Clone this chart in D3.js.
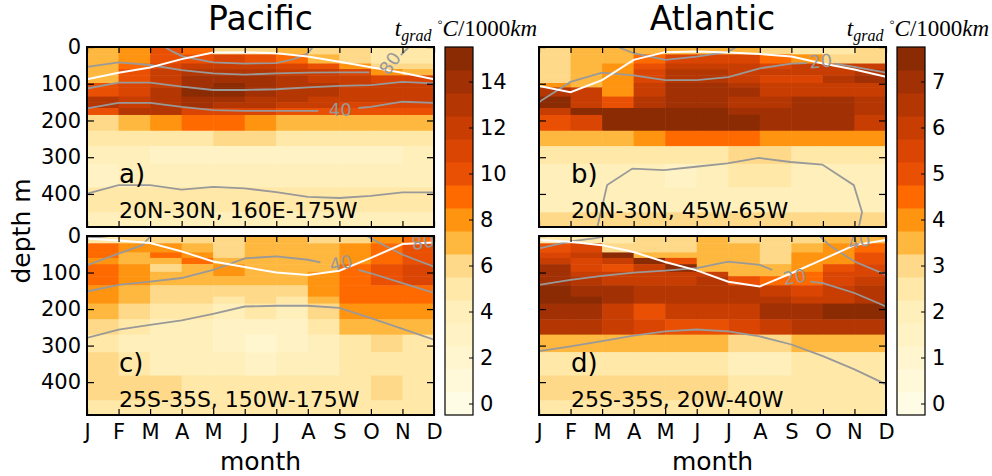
<!DOCTYPE html>
<html>
<head>
<meta charset="utf-8">
<script src="https://cdn.jsdelivr.net/npm/d3@7"></script>
<style>
body { margin: 0; background: #fff; }
svg { font-family: "DejaVu Sans", sans-serif; }
</style>
</head>
<body>
<script>
(function () {
	"use strict";

	// ---- data ----
	let months = ['J', 'F', 'M', 'A', 'M', 'J', 'J', 'A', 'S', 'O', 'N', 'D'];
	let depthEdges = [0, 20, 45, 60, 77, 98, 110, 135, 150, 166, 185, 228, 270, 318, 382, 450, 490];
	let depthTicks = [0, 100, 200, 300, 400];
	let basins = ['Pacific', 'Atlantic'];
	let regions = ['20N-30N, 160E-175W', '20N-30N, 45W-65W', '25S-35S, 150W-175W', '25S-35S, 20W-40W'];
	let cbTicksPac = [0, 2, 4, 6, 8, 10, 12, 14];
	let cbTicksAtl = [0, 1, 2, 3, 4, 5, 6, 7];

	// temperature gradient, rows = depth cells, cols = J-F ... N-D
	let tgradPacN = [
		[7, 8, 10, 9, 6, 6, 7, 6, 6, 5, 5],
		[7, 8, 10, 10, 11, 10, 9, 7, 6, 5, 5],
		[7, 9, 11, 12, 12, 12, 11, 10, 8, 6, 6],
		[7, 10, 12, 13, 13, 13, 12, 12, 11, 8, 7],
		[7, 10, 12, 14, 14, 14, 13, 12, 12, 11, 11],
		[10, 11, 12, 14, 15, 14, 13, 13, 12, 12, 12],
		[10, 11, 13, 15, 15, 14, 13, 13, 12, 12, 12],
		[13, 12, 13, 14, 14, 13, 13, 12, 12, 12, 12],
		[13, 12, 13, 14, 13, 13, 12, 12, 11, 11, 11],
		[10, 13, 13, 11, 11, 11, 10, 10, 10, 10, 10],
		[6, 7, 8, 9, 9, 8, 7, 7, 7, 7, 7],
		[5, 5, 5, 5, 6, 6, 5, 5, 5, 5, 5],
		[4, 4, 3, 3, 3, 3, 3, 3, 3, 3, 4],
		[3, 4, 4, 4, 4, 4, 4, 4, 4, 4, 4],
		[5, 5, 5, 5, 5, 5, 5, 5, 5, 5, 5],
		[4, 4, 4, 4, 4, 4, 4, 4, 4, 4, 4]
	];
	let tgradAtlN = [
		[3, 3.5, 3.5, 3.5, 3.5, 3.5, 3.5, 3, 2.5, 2.5, 3],
		[3, 3.5, 3.5, 4.5, 5.5, 5.5, 5.5, 4.5, 4, 3, 3],
		[3, 3.5, 4, 5, 6, 6, 6, 5.5, 6, 6, 6],
		[3, 3.5, 4, 5.5, 6.5, 6.5, 6, 6, 6, 6, 6.5],
		[3, 3.5, 4, 5.5, 6.5, 6.5, 6, 5.5, 5.5, 6.5, 7],
		[4, 3.5, 4, 6, 7, 7, 6.5, 6, 6, 6, 6],
		[6.5, 6, 4, 6, 7, 7, 7, 6, 6, 6, 6],
		[7.5, 6, 5, 6.5, 7, 7, 6.5, 6.5, 7, 7, 6.5],
		[7.5, 6, 5, 6.5, 7, 7, 6.5, 6.5, 7, 7, 6.5],
		[6, 7.5, 7.5, 7.5, 7.5, 7.5, 7, 7, 7, 7, 6.5],
		[5, 5.5, 7.5, 7.5, 7.5, 7.5, 7.5, 7, 7, 7, 6],
		[3.5, 3.5, 3.5, 4, 4.5, 4.5, 4.5, 4, 4, 4, 4],
		[2.5, 2.5, 2.5, 2.5, 2.5, 2.5, 3, 3, 2.5, 2.5, 2.5],
		[2, 2, 2, 2, 1.5, 2, 2.5, 2.5, 2, 2, 2],
		[2, 2, 2, 2, 2, 2, 2, 2, 2, 2, 2],
		[3, 3, 3, 3, 3, 3, 3, 3, 3, 3, 3]
	];
	let tgradPacS = [
		[5, 6, 6, 6, 6, 7, 7, 6, 6, 8, 9],
		[9, 8, 8, 7, 6, 7, 7, 7, 8, 9, 10],
		[9, 7, 9, 8, 6, 7, 7, 7, 8, 9, 10],
		[8, 7, 7, 9, 7, 7, 7, 7, 8, 9, 10],
		[9, 8, 6, 7, 8, 7, 7, 7, 9, 10, 11],
		[9, 8, 7, 7, 8, 7, 7, 8, 9, 10, 11],
		[9, 8, 7, 7, 7, 7, 7, 8, 9, 10, 11],
		[8, 7, 6, 6, 6, 6, 6, 8, 9, 9, 9],
		[8, 7, 6, 6, 6, 6, 6, 8, 9, 9, 9],
		[8, 7, 6, 6, 5, 6, 5, 7, 9, 9, 9],
		[7, 6, 5, 5, 4, 5, 4, 6, 8, 8, 8],
		[6, 5, 4, 4, 3, 3, 3, 5, 7, 7, 7],
		[5, 4, 4, 4, 3, 2, 3, 4, 5, 6, 5],
		[6, 5, 4, 4, 4, 3, 4, 4, 5, 5, 5],
		[6, 6, 6, 5, 5, 5, 5, 5, 5, 6, 5],
		[5, 5, 5, 5, 5, 5, 5, 5, 5, 5, 5]
	];
	let tgradAtlS = [
		[2.5, 2.5, 2.5, 3, 3, 3.5, 3, 3, 3, 3.5, 3.5],
		[5, 5.5, 3, 3, 3, 3.5, 3.5, 3, 3.5, 4, 4.5],
		[5.5, 6, 7.5, 3.5, 3.5, 3.5, 3.5, 3, 4, 4, 5],
		[6, 5.5, 6, 7.5, 5, 3.5, 3.5, 3, 4, 4, 5],
		[7, 5.5, 5, 6, 7.5, 3.5, 3.5, 3.5, 4, 5, 5.5],
		[7, 6, 6, 6, 6, 6, 3.5, 3.5, 4.5, 5.5, 5.5],
		[7, 6.5, 6, 6, 6, 6.5, 5, 4.5, 4.5, 5.5, 6],
		[7.5, 7, 7, 6.5, 6.5, 6.5, 6.5, 6, 5.5, 6, 6.5],
		[7.5, 7, 7, 6.5, 6.5, 6.5, 6.5, 6, 5.5, 6, 6.5],
		[7.5, 7.5, 7, 6.5, 6.5, 6.5, 6.5, 6.5, 6, 6, 6.5],
		[7, 7, 6, 5, 6, 6, 6, 7, 7, 7.5, 7.5],
		[6.5, 6.5, 6, 5.5, 5, 5, 5.5, 6, 6.5, 6.5, 6.5],
		[3.5, 3.5, 3.5, 3.5, 3.5, 3.5, 3, 3, 3.5, 3.5, 3.5],
		[2.5, 2.5, 2.5, 2.5, 2.5, 2.5, 2, 2, 2.5, 2.5, 2.5],
		[3, 3, 3, 3, 3, 3, 2.5, 2.5, 2.5, 2.5, 2.5],
		[2.5, 2.5, 2.5, 2.5, 2.5, 2.5, 2.5, 2.5, 2.5, 2.5, 2.5]
	];

	// white line, one depth per month
	let mldPacN = [88, 70, 56, 33, 15, 14, 17, 26, 40, 55, 70, 88];
	let mldAtlN = [106, 123, 90, 35, 14, 12, 15, 19, 26, 45, 61, 81];
	let mldPacS = [7, 12, 19, 42, 70, 85, 100, 107, 95, 60, 22, 18];
	let mldAtlS = [11, 16, 25, 44, 71, 94, 125, 138, 102, 64, 25, 11];

	// grey contours, [month, depth]
	let isoPacN = [
		[[3.47, 0], [3.7, 12], [4.05, 26], [5, 42], [6, 45], [7, 44], [7.6, 32], [8, 17], [8.16, 0]],
		[[1, 54], [2, 42], [3, 49], [4, 63], [5, 72], [6, 75], [7, 72], [8, 70], [9, 69], [9.95, 69]],
		[[10.95, 22], [11.2, 0]],
		[[1, 113], [2, 97], [3, 97], [4, 108], [5, 117], [6, 117], [7, 115], [8, 110], [9, 106], [10, 104], [11, 95], [12, 99]],
		[[1, 167], [2, 152], [3, 152], [4, 163], [5, 172], [6, 174], [7, 174], [8, 174], [8.33, 174]],
		[[9.6, 166], [10, 163], [11, 149], [12, 152]],
		[[1, 399], [2, 376], [3, 376], [4, 388], [5, 381], [6, 385], [7, 395], [8, 408], [9, 411], [10, 405], [11, 396], [12, 396]]
	];
	let isoAtlN = [
		[[3.5, 0], [4, 17], [5, 35], [6, 26], [7, 13], [7.25, 0]],
		[[1, 150], [2, 95], [3, 70], [4, 77], [5, 90], [6, 90], [7, 82], [8, 58], [9, 45], [9.5, 44]],
		[[10.35, 45], [11, 54], [12, 70]],
		[[2.85, 490], [3.16, 376], [3.96, 331], [4.96, 335], [5.96, 326], [6.97, 317], [7.97, 302], [8.97, 313], [9.98, 320], [10.98, 376], [11.24, 449], [11.14, 490]]
	];
	let isoPacS = [
		[[1, 6], [1.5, 2], [1.7, 0]],
		[[1, 80], [2, 48], [2.75, 25], [3, 2], [3.05, 0]],
		[[1, 152], [2, 134], [3, 125], [4, 115], [5, 93], [6, 61], [7, 56], [8, 65], [8.4, 72]],
		[[9.6, 93], [10, 102], [11, 129], [12, 156]],
		[[1, 279], [2, 256], [3, 243], [4, 231], [5, 213], [6, 193], [7, 191], [8, 191], [9, 197], [10, 225], [11, 254], [12, 284]],
		[[9.87, 0], [10.29, 20], [11.03, 52], [12, 84]]
	];
	let isoAtlS = [
		[[1, 34], [2, 15], [2.8, 6], [3.1, 0]],
		[[1, 134], [2, 120], [3, 109], [4, 100], [5, 95], [6, 88], [7, 70], [8, 79], [8.4, 93]],
		[[9.6, 125], [10, 129], [11, 156], [12, 193]],
		[[1, 315], [2, 302], [3, 288], [4, 273], [5, 261], [6, 256], [7, 261], [8, 275], [9, 297], [10, 329], [11, 365], [12, 406]],
		[[9.9, 0], [10.2, 25], [11, 70], [12, 106]]
	];

	// contour labels [month, depth, text, angle]
	let labPacN = [[10.6, 44, '80', -55], [9.03, 169, '40', 0]];
	let labAtlN = [[9.93, 38, '20', -5]];
	let labPacS = [[9.05, 74, '40', -12], [11.65, 16, '80', -10]];
	let labAtlS = [[9.1, 112, '20', -10], [11.15, 14, '40', -15]];

	// ---- layout ----
	let w = 992, h = 476;
	let colX = [[87, 434], [539, 886]];
	let rowY = [[47, 227], [236, 415]];
	let cbX = [[445, 473], [897, 925]];
	let palette = ['#fffce6', '#fff9da', '#fff6d0', '#fff3c6', '#ffefba', '#ffe8a8', '#fed98a', '#feb840',
		'#fe9410', '#ff6a00', '#ea5004', '#db4504', '#c83d02', '#b43603', '#a13004', '#8a2b04'];

	let colorPac = d3.scaleQuantize().domain([-0.5, 15.5]).range(palette);
	let colorAtl = d3.scaleQuantize().domain([-0.25, 7.75]).range(palette);

	let panels = [
		{ col: 0, row: 0, data: tgradPacN, mld: mldPacN, iso: isoPacN, lab: labPacN, color: colorPac, letter: 'a)', region: regions[0] },
		{ col: 1, row: 0, data: tgradAtlN, mld: mldAtlN, iso: isoAtlN, lab: labAtlN, color: colorAtl, letter: 'b)', region: regions[1] },
		{ col: 0, row: 1, data: tgradPacS, mld: mldPacS, iso: isoPacS, lab: labPacS, color: colorPac, letter: 'c)', region: regions[2] },
		{ col: 1, row: 1, data: tgradAtlS, mld: mldAtlS, iso: isoAtlS, lab: labAtlS, color: colorAtl, letter: 'd)', region: regions[3] }
	];

	let svg = d3.select('body').append('svg').attr('width', w).attr('height', h);
	let defs = svg.append('defs');

	panels.forEach(function (p, i) {
		let x = d3.scaleLinear().domain([1, 12]).range(colX[p.col]);
		let y = d3.scaleLinear().domain([0, 490]).range(rowY[p.row]);
		let g = svg.append('g');

		defs.append('clipPath').attr('id', 'clip' + i)
			.append('rect')
			.attr('x', x.range()[0]).attr('y', y.range()[0])
			.attr('width', x.range()[1] - x.range()[0])
			.attr('height', y.range()[1] - y.range()[0]);

		let body = g.append('g').attr('clip-path', 'url(#clip' + i + ')');

		// cells
		let cells = [];
		p.data.forEach(function (r, ri) {
			r.forEach(function (v, ci) {
				cells.push({ r: ri, c: ci, v: v });
			});
		});
		body.selectAll('rect.cell').data(cells).enter().append('rect')
			.attr('class', 'cell')
			.attr('x', (d) => x(d.c + 1))
			.attr('width', (d) => x(d.c + 2) - x(d.c + 1) + 0.5)
			.attr('y', (d) => y(depthEdges[d.r]))
			.attr('height', (d) => y(depthEdges[d.r + 1]) - y(depthEdges[d.r]) + 0.5)
			.attr('fill', (d) => p.color(d.v));

		let line = d3.line().x((d) => x(d[0])).y((d) => y(d[1]));

		body.selectAll('path.iso').data(p.iso).enter().append('path')
			.attr('class', 'iso')
			.attr('d', line)
			.attr('fill', 'none')
			.attr('stroke', '#999999')
			.attr('stroke-width', 1.8);

		body.append('path')
			.datum(p.mld.map((d, k) => [k + 1, d]))
			.attr('d', line)
			.attr('fill', 'none')
			.attr('stroke', '#ffffff')
			.attr('stroke-width', 2);

		body.selectAll('text.lab').data(p.lab).enter().append('text')
			.attr('class', 'lab')
			.attr('transform', (d) => 'translate(' + x(d[0]) + ',' + y(d[1]) + ') rotate(' + d[3] + ')')
			.attr('text-anchor', 'middle')
			.attr('dy', '0.36em')
			.attr('font-size', 18)
			.attr('fill', '#999999')
			.text((d) => d[2]);

		// axes, ticks inward on all sides
		let yl = d3.axisLeft(y).tickValues(depthTicks).tickSize(-7).tickPadding(6)
			.tickFormat(p.col === 0 ? d3.format('d') : '');
		let yr = d3.axisRight(y).tickValues(depthTicks).tickSize(-7).tickFormat('');
		let xb = d3.axisBottom(x).tickValues(d3.range(1, 13)).tickSize(-6).tickPadding(9)
			.tickFormat(p.row === 1 ? (d) => months[d - 1] : '');
		let xt = d3.axisTop(x).tickValues(d3.range(1, 13)).tickSize(-6).tickFormat('');

		[
			[yl, 'translate(' + x.range()[0] + ',0)'],
			[yr, 'translate(' + x.range()[1] + ',0)'],
			[xb, 'translate(0,' + y.range()[1] + ')'],
			[xt, 'translate(0,' + y.range()[0] + ')']
		].forEach(function (a) {
			let ax = g.append('g').attr('transform', a[1]).call(a[0]);
			ax.select('.domain').remove();
			ax.selectAll('line').attr('stroke', '#000').attr('stroke-width', 1.2);
			ax.selectAll('text').attr('font-size', 21).attr('fill', '#000')
				.attr('font-family', '"DejaVu Sans", sans-serif');
		});

		g.append('rect')
			.attr('x', x.range()[0]).attr('y', y.range()[0])
			.attr('width', x.range()[1] - x.range()[0])
			.attr('height', y.range()[1] - y.range()[0])
			.attr('fill', 'none').attr('stroke', '#000').attr('stroke-width', 2);

		g.append('text')
			.attr('x', x.range()[0] + 32).attr('y', y.range()[0] + 136)
			.attr('font-size', 26).text(p.letter);
		g.append('text')
			.attr('x', x.range()[0] + 32).attr('y', y.range()[0] + 171)
			.attr('font-size', 22).text(p.region);
	});

	// colorbars
	[[colorPac, cbTicksPac, 1], [colorAtl, cbTicksAtl, 0.5]].forEach(function (c, i) {
		let step = c[2];
		let cb = d3.scaleLinear().domain([-step / 2, 15.5 * step]).range([415, 47]);
		let g = svg.append('g');
		g.selectAll('rect').data(d3.range(16)).enter().append('rect')
			.attr('x', cbX[i][0])
			.attr('width', cbX[i][1] - cbX[i][0])
			.attr('y', (k) => cb((k + 0.5) * step))
			.attr('height', (k) => cb((k - 0.5) * step) - cb((k + 0.5) * step) + 0.5)
			.attr('fill', (k) => c[0](k * step));
		let ax = g.append('g').attr('transform', 'translate(' + cbX[i][1] + ',0)')
			.call(d3.axisRight(cb).tickValues(c[1]).tickSize(-4).tickPadding(7));
		ax.select('.domain').remove();
		ax.selectAll('line').attr('stroke', '#000');
		ax.selectAll('text').attr('font-size', 21).attr('fill', '#000')
			.attr('font-family', '"DejaVu Sans", sans-serif');
		g.append('rect')
			.attr('x', cbX[i][0]).attr('y', 47)
			.attr('width', cbX[i][1] - cbX[i][0]).attr('height', 368)
			.attr('fill', 'none').attr('stroke', '#000').attr('stroke-width', 1.2);

		let t = g.append('text')
			.attr('x', (cbX[i][0] + cbX[i][1]) / 2 + 7).attr('y', 36)
			.attr('text-anchor', 'middle')
			.attr('font-family', '"Liberation Serif", serif')
			.attr('font-size', 23);
		t.append('tspan').attr('font-style', 'italic').text('t');
		t.append('tspan').attr('font-style', 'italic').attr('font-size', 16).attr('dy', 5).text('grad');
		t.append('tspan').attr('dy', -5).text(' ');
		t.append('tspan').attr('font-size', 15).attr('dy', -9).text('\u25E6');
		t.append('tspan').attr('font-style', 'italic').attr('dy', 9).text('C');
		t.append('tspan').text('/1000');
		t.append('tspan').attr('font-style', 'italic').text('km');
	});

	// titles and axis labels
	basins.forEach(function (b, i) {
		svg.append('text')
			.attr('x', (colX[i][0] + colX[i][1]) / 2).attr('y', 30)
			.attr('text-anchor', 'middle').attr('font-size', 33).text(b);
		svg.append('text')
			.attr('x', (colX[i][0] + colX[i][1]) / 2).attr('y', 470)
			.attr('text-anchor', 'middle').attr('font-size', 25).text('month');
	});
	svg.append('text')
		.attr('transform', 'translate(30,231) rotate(-90)')
		.attr('text-anchor', 'middle').attr('font-size', 25).text('depth m');

})();
</script>
</body>
</html>
